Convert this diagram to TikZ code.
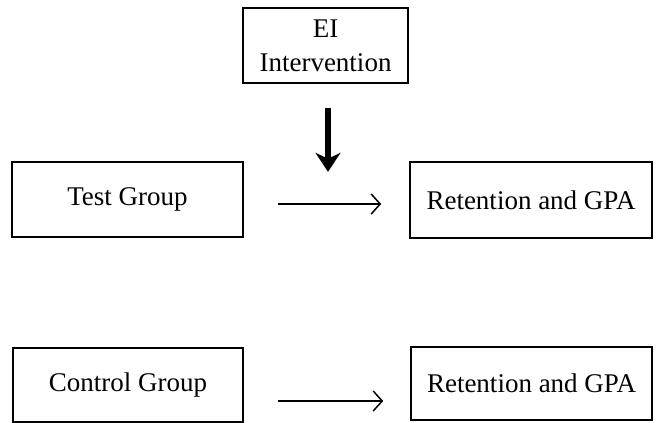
\documentclass[tikz,border=0pt]{standalone}
\usepackage{fontspec}
\setmainfont{Liberation Serif}
\usetikzlibrary{arrows.meta,calc}
\begin{document}
\begin{tikzpicture}[x=1pt,y=-1pt,
  box/.style={draw,line width=1.6pt,inner sep=0pt,align=center,
    font=\fontsize{27}{34}\selectfont},
  flow/.style={line width=1.5pt,-{Straight Barb[length=9pt,width=20pt,line width=1.5pt]}},
  bold/.style={line width=5.5pt,-{Stealth[length=19pt,width=25pt,inset=6pt]}}]
\useasboundingbox (0,0) rectangle (656,423);
\node[box,minimum width=165pt,minimum height=75pt] (ei) at (325.5,45.5) {EI\\Intervention};
\node[box,minimum width=231pt,minimum height=75pt] (test) at (127.5,199.5) {Test Group};
\node[box,minimum width=242pt,minimum height=76pt] (ret1) at (531,200) {Retention and GPA};
\node[box,minimum width=230pt,minimum height=74pt] (ctrl) at (128,385) {Control Group};
\node[box,minimum width=241pt,minimum height=73pt] (ret2) at (531.5,383.5) {Retention and GPA};
\coordinate (a1s) at ($(test.east)+(34,4.5)$);
\coordinate (a1e) at ($(ret1.west)+(-28,4)$);
\coordinate (a2s) at ($(ctrl.east)+(34,16)$);
\coordinate (a2e) at ($(ret2.west)+(-27,17.5)$);
\coordinate (ds) at ($(ei.south)+(2.5,24)$);
\coordinate (de) at ($(ei.south)+(2.5,88)$);
\draw[flow] (a1s) -- (a1e);
\draw[flow] (a2s) -- (a2e);
\draw[bold] (ds) -- (de);
\end{tikzpicture}
\end{document}
